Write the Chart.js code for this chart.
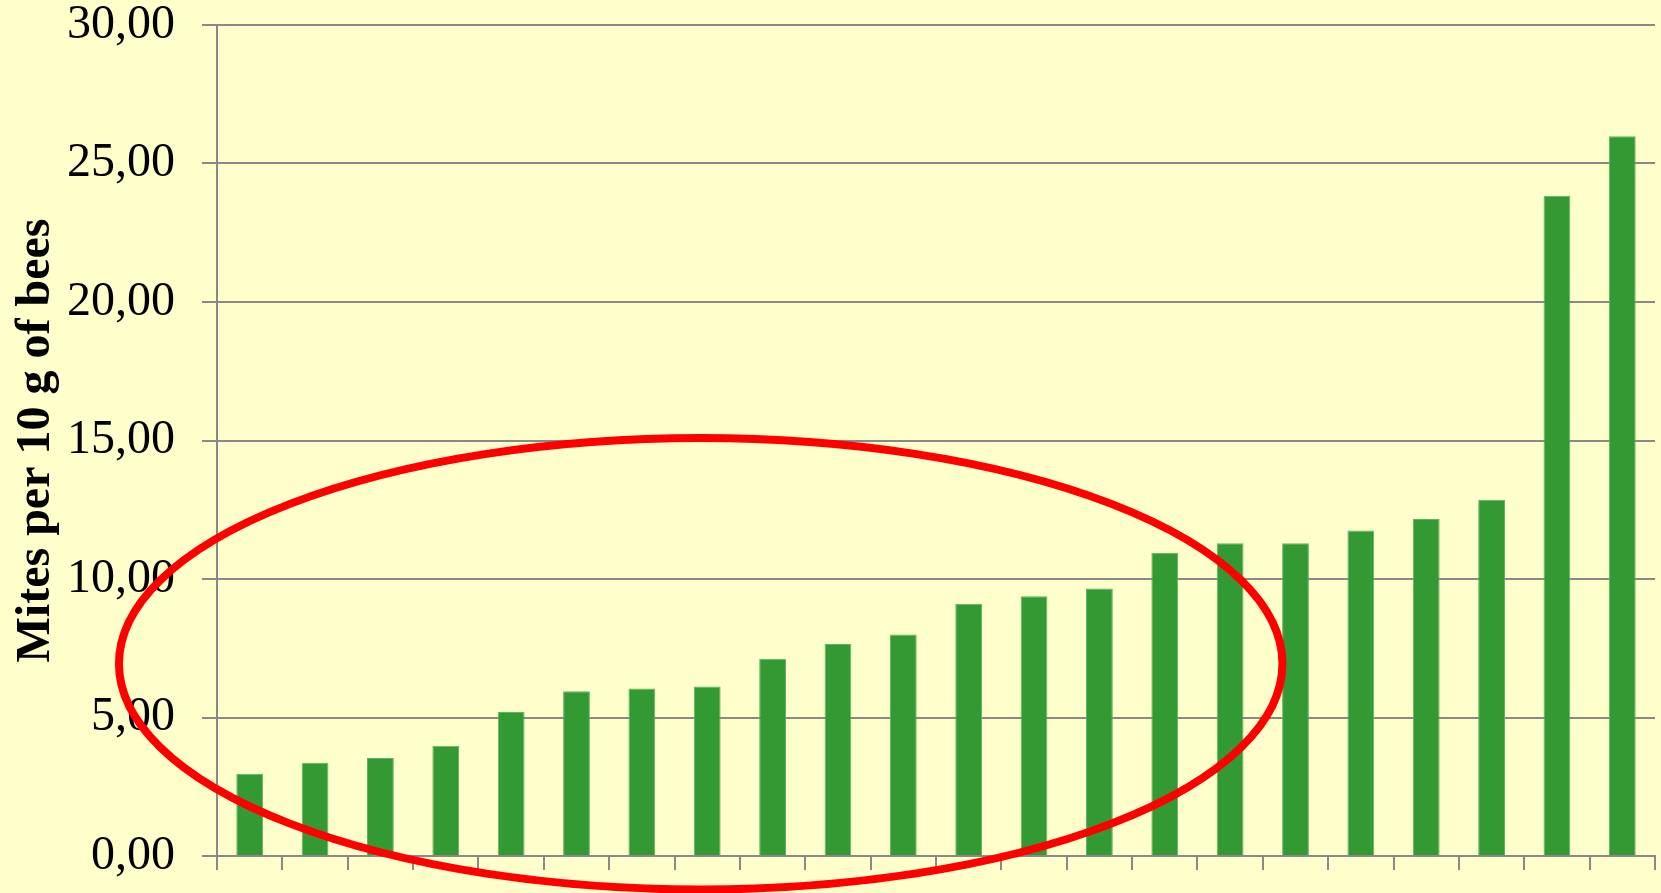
<!DOCTYPE html>
<html>
<head>
<meta charset="utf-8">
<script src="https://cdn.jsdelivr.net/npm/chart.js@4"></script>
<style>
  html, body { margin: 0; padding: 0; background: #FFFFCC; }
  #wrap { width: 1661px; height: 893px; position: relative; }
</style>
</head>
<body>
<div id="wrap"><canvas id="c" width="1661" height="893"></canvas></div>
<script>
// ---- data ----
const categories = ['1','2','3','4','5','6','7','8','9','10','11','12','13','14','15','16','17','18','19','20','21','22'];
const mitesPer10g = [2.97, 3.37, 3.54, 3.98, 5.20, 5.95, 6.05, 6.12, 7.12, 7.65, 8.00, 9.11, 9.38, 9.66, 10.95, 11.29, 11.29, 11.75, 12.17, 12.86, 23.84, 25.98];
const yTickValues = [0, 5, 10, 15, 20, 25, 30];
const yTickLabels = ['0,00', '5,00', '10,00', '15,00', '20,00', '25,00', '30,00'];
const yAxisTitle = 'Mites per 10 g of bees';
// highlight ellipse annotation, in data units (category index, value)
const highlight = { cx: 6.9, cy: 6.94, rx: 8.9, ry: 8.15 };

const gridColor = '#898989';

const bgPlugin = {
  id: 'bg',
  beforeDraw(chart) {
    const ctx = chart.ctx;
    ctx.save();
    ctx.fillStyle = '#FFFFCC';
    ctx.fillRect(0, 0, chart.width, chart.height);
    ctx.restore();
  }
};

const ellipsePlugin = {
  id: 'ellipse',
  afterDatasetsDraw(chart) {
    const x = chart.scales.x, y = chart.scales.y;
    const cx = x.getPixelForValue(highlight.cx);
    const cy = y.getPixelForValue(highlight.cy);
    const rx = Math.abs(x.getPixelForValue(highlight.cx + highlight.rx) - cx);
    const ry = Math.abs(y.getPixelForValue(highlight.cy + highlight.ry) - cy);
    const ctx = chart.ctx;
    ctx.save();
    ctx.beginPath();
    ctx.ellipse(cx, cy, rx, ry, 0, 0, Math.PI * 2);
    ctx.strokeStyle = '#FF0000';
    ctx.lineWidth = 8;
    ctx.stroke();
    ctx.restore();
  }
};

new Chart(document.getElementById('c'), {
  type: 'bar',
  data: {
    labels: categories,
    datasets: [{
      data: mitesPer10g,
      backgroundColor: '#339933',
      borderColor: '#62b062',
      borderWidth: 1,
      categoryPercentage: 1.0,
      barPercentage: 0.41
    }]
  },
  options: {
    responsive: false,
    animation: false,
    devicePixelRatio: 1,
    layout: { padding: { top: 25, right: 6, left: 0, bottom: 0 } },
    plugins: { legend: { display: false }, tooltip: { enabled: false } },
    scales: {
      x: {
        grid: { display: true, drawOnChartArea: false, drawTicks: true, tickLength: 14, color: gridColor, lineWidth: 2, offset: true },
        border: { display: true, color: gridColor, width: 2 },
        ticks: { display: false },
        afterFit(s) { s.height = 37; s.paddingLeft = 0; s.paddingRight = 0; }
      },
      y: {
        min: 0, max: 30,
        afterBuildTicks(s) { s.ticks = yTickValues.map(v => ({ value: v })); },
        grid: { color: gridColor, lineWidth: 2, drawTicks: true, tickLength: 15 },
        border: { display: true, color: gridColor, width: 2 },
        ticks: {
          color: '#000000',
          padding: 27,
          font: { family: '"Liberation Serif", "Times New Roman", serif', size: 48, lineHeight: 1 },
          callback(value) { const i = yTickValues.indexOf(value); return i >= 0 ? yTickLabels[i] : ''; }
        },
        title: {
          display: true,
          text: yAxisTitle,
          color: '#000000',
          padding: { top: 8, bottom: 0 },
          font: { family: '"Liberation Serif", "Times New Roman", serif', size: 48, weight: 'bold', lineHeight: 1.2 }
        },
        afterFit(s) { s.width = 217; s.paddingTop = 0; s.paddingBottom = 0; }
      }
    }
  },
  plugins: [bgPlugin, ellipsePlugin]
});
</script>
</body>
</html>
